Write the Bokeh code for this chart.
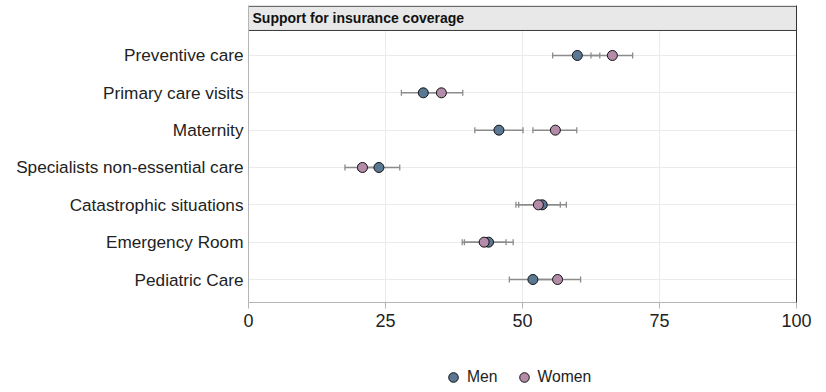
from bokeh.plotting import figure
from bokeh.layouts import column
from bokeh.models import (ColumnDataSource, Range1d, FixedTicker, LinearAxis, Whisker,
                          TeeHead, Legend, LegendItem)
from bokeh.core.properties import value
from bokeh.embed import file_html
from bokeh.resources import INLINE

# ---- data ----
categories = ["Preventive care", "Primary care visits", "Maternity",
              "Specialists non-essential care", "Catastrophic situations",
              "Emergency Room", "Pediatric Care"]
men = [60.0, 31.9, 45.7, 23.8, 53.6, 43.8, 51.9]
women = [66.4, 35.2, 56.0, 20.8, 52.9, 43.0, 56.4]
men_lo = [55.5, 27.9, 41.3, 20.0, 49.3, 39.4, 47.6]
men_hi = [64.1, 35.9, 50.1, 27.6, 58.0, 48.3, 56.2]
women_lo = [62.5, 31.3, 51.9, 17.6, 48.8, 39.0, 52.2]
women_hi = [70.1, 39.1, 59.9, 24.0, 56.9, 47.0, 60.6]
x_ticks = [0, 25, 50, 75, 100]
series_names = ["Men", "Women"]
panel_title = "Support for insurance coverage"

MEN_COLOR = "#5a7894"
WOMEN_COLOR = "#b48ba8"
FONT = "Liberation Sans"

n = len(categories)
ypos = [n - i for i in range(n)]

src = ColumnDataSource(dict(y=ypos, men=men, women=women, men_lo=men_lo, men_hi=men_hi,
                            women_lo=women_lo, women_hi=women_hi))

y_bottom = 0.384
y_top = 8.339
band_bottom = n + 0.67

p = figure(width=818, height=334, output_backend="svg", toolbar_location=None,
           x_range=Range1d(0, 100), y_range=Range1d(y_bottom, y_top),
           min_border_left=248, min_border_right=22, min_border_top=5, min_border_bottom=32,
           background_fill_color="white", border_fill_color="white")
p.outline_line_color = None

# axes
p.xaxis.ticker = FixedTicker(ticks=x_ticks)
p.xaxis.axis_line_color = "#b5b5b5"
p.xaxis.major_tick_line_color = "#b5b5b5"
p.xaxis.major_tick_out = 6
p.xaxis.major_tick_in = 0
p.xaxis.minor_tick_line_color = None
p.xaxis.major_label_text_font = FONT
p.xaxis.major_label_text_font_size = "18px"
p.xaxis.major_label_text_color = "#222222"
p.xaxis.major_label_standoff = 5

p.yaxis.ticker = FixedTicker(ticks=ypos)
p.yaxis.major_label_overrides = {y: c for y, c in zip(ypos, categories)}
p.yaxis.axis_line_color = "#b5b5b5"
p.yaxis.major_tick_line_color = None
p.yaxis.major_tick_out = 0
p.yaxis.major_tick_in = 0
p.yaxis.minor_tick_line_color = None
p.yaxis.major_label_text_font = FONT
p.yaxis.major_label_text_font_size = "17.2px"
p.yaxis.major_label_text_color = "#222222"
p.yaxis.major_label_standoff = 5

right_axis = LinearAxis(axis_line_color="#333333", major_tick_line_color=None,
                        minor_tick_line_color=None, major_label_text_font_size="0px",
                        major_label_text_alpha=0, ticker=FixedTicker(ticks=[]))
p.add_layout(right_axis, "right")

p.xgrid.ticker = FixedTicker(ticks=x_ticks)
p.xgrid.grid_line_color = "#ebebeb"
p.ygrid.ticker = FixedTicker(ticks=ypos)
p.ygrid.grid_line_color = "#ebebeb"

# title band
p.quad(left=[0], right=[100], bottom=[band_bottom], top=[y_top - 0.02],
       fill_color="#e8e8e8", line_color="#3a3a3a", line_width=1)
p.text(x=[0], y=[(band_bottom + y_top) / 2], text=[panel_title], x_offset=4,
       text_baseline="middle", text_align="left", text_font=value(FONT),
       text_font_style="bold", text_font_size="14px", text_color="#111111")

# error bars
for lo, hi in (("men_lo", "men_hi"), ("women_lo", "women_hi")):
    w = Whisker(base="y", lower=lo, upper=hi, dimension="width", source=src,
                line_color="#8c8c8c", line_width=1.5,
                upper_head=TeeHead(size=6, line_color="#8c8c8c", line_width=1.3),
                lower_head=TeeHead(size=6, line_color="#8c8c8c", line_width=1.3))
    p.add_layout(w)

p.scatter(x="men", y="y", source=src, size=10, fill_color=MEN_COLOR,
          line_color="#111111", line_width=1)
p.scatter(x="women", y="y", source=src, size=10, fill_color=WOMEN_COLOR,
          line_color="#111111", line_width=1)

# ---- legend strip below the chart (frame is aligned with the main frame) ----
leg = figure(width=818, height=56, output_backend="svg", toolbar_location=None,
             x_range=Range1d(0, 1), y_range=Range1d(0, 1),
             min_border_left=248, min_border_right=22, min_border_top=0, min_border_bottom=0,
             background_fill_color="white", border_fill_color="white")
leg.outline_line_color = None
leg.axis.visible = False
leg.grid.visible = False
# hidden copies of the series, used only to draw the legend keys
men_r = leg.scatter(x="men", y="y", source=src, size=10, fill_color=MEN_COLOR,
                    line_color="#111111", line_width=1, visible=False)
women_r = leg.scatter(x="women", y="y", source=src, size=10, fill_color=WOMEN_COLOR,
                      line_color="#111111", line_width=1, visible=False)

legend = Legend(items=[LegendItem(label=series_names[0], renderers=[men_r]),
                       LegendItem(label=series_names[1], renderers=[women_r])],
                orientation="horizontal", location=(193, 1),
                glyph_width=24, glyph_height=24, label_standoff=2, spacing=14,
                padding=0, margin=0, border_line_color=None, background_fill_alpha=0,
                inactive_fill_alpha=0,
                label_text_font=FONT, label_text_font_size="15.7px",
                label_text_color="#222222")
leg.add_layout(legend, "center")

layout = column(p, leg, spacing=0)
open("out.html", "w").write(file_html(layout, INLINE))
